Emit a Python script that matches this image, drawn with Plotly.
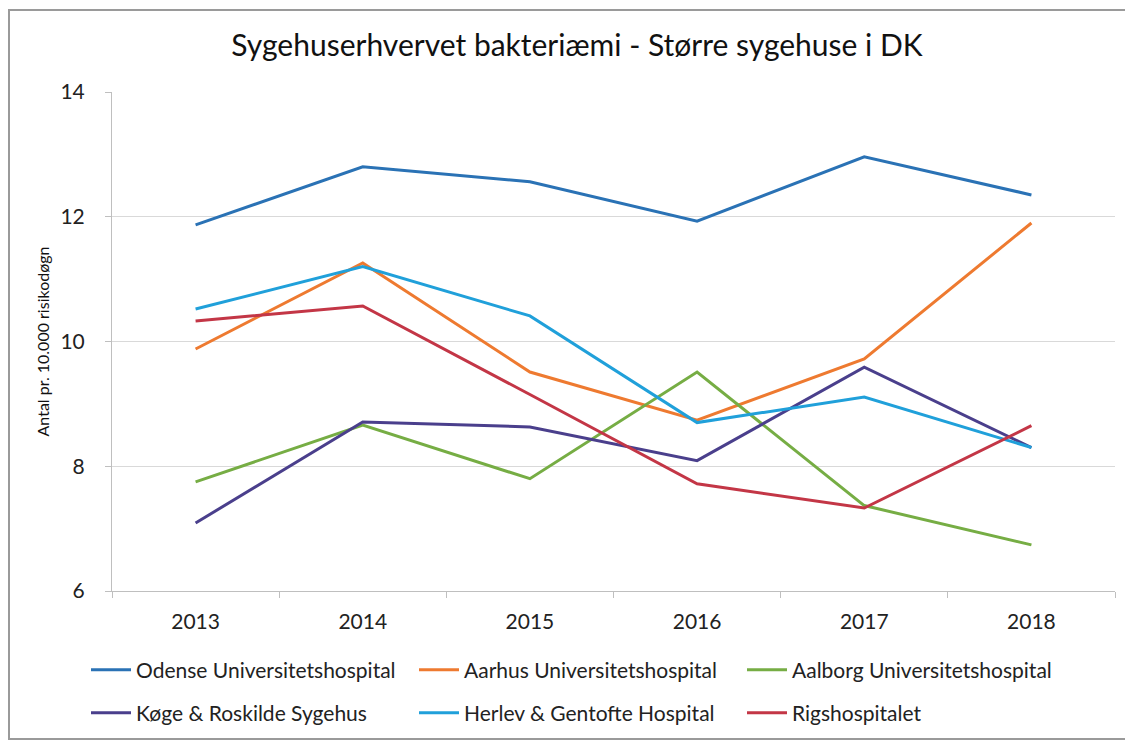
import plotly.graph_objects as go

years = [2013, 2014, 2015, 2016, 2017, 2018]
odense = [11.87, 12.80, 12.56, 11.93, 12.96, 12.35]
aarhus = [9.88, 11.26, 9.51, 8.74, 9.72, 11.90]
aalborg = [7.75, 8.66, 7.80, 9.51, 7.37, 6.74]
koge = [7.09, 8.71, 8.63, 8.09, 9.59, 8.30]
herlev = [10.52, 11.20, 10.41, 8.70, 9.11, 8.30]
rigs = [10.33, 10.57, 9.15, 7.72, 7.33, 8.65]

names = ["Odense Universitetshospital", "Aarhus Universitetshospital", "Aalborg Universitetshospital",
         "Køge & Roskilde Sygehus", "Herlev & Gentofte Hospital", "Rigshospitalet"]
series = [odense, aarhus, aalborg, koge, herlev, rigs]
colors = ["#2A72B5", "#EE7A30", "#76AD44", "#4A3F8C", "#20A0DA", "#C33646"]
legends = ["legend", "legend", "legend", "legend2", "legend2", "legend2"]

# page body adds 8px margin; figure coordinates = screen - 8
OFF = 8
W, H = 1133 - OFF, 744 - OFF
L, R, T, B = 112 - OFF, 18, 92 - OFF, 153
pw, ph = W - L - R, H - T - B

def px(x):
    return (x - OFF - L) / pw

def py(y):
    return (H - B - (y - OFF)) / ph

fig = go.Figure()
for n, s, c, lg in zip(names, series, colors, legends):
    fig.add_trace(go.Scatter(x=years, y=s, name=n, mode="lines",
                             line=dict(color=c, width=3), legend=lg))

FONT = "Lato"
legend_common = dict(orientation="h", font=dict(family=FONT, size=21, color="#222"),
                     entrywidth=273, entrywidthmode="pixels", xanchor="left", yanchor="middle",
                     bgcolor="rgba(0,0,0,0)", itemwidth=40)

fig.update_layout(
    width=W, height=H,
    margin=dict(l=L, r=R, t=T, b=B, autoexpand=False),
    paper_bgcolor="white", plot_bgcolor="white",
    title=dict(text="Sygehuserhvervet bakteriæmi - Større sygehuse i DK",
               x=(577 - OFF) / W, xanchor="center", y=1 - (45 - OFF) / H, yanchor="middle",
               font=dict(family=FONT, size=30, color="#111")),
    xaxis=dict(range=[2012.5, 2018.5], tickvals=years, ticktext=[str(y) for y in years],
               showgrid=False, showline=True, linecolor="#BFBFBF", linewidth=1,
               ticks="", tickfont=dict(family=FONT, size=21, color="#222"),
               ticklabelstandoff=12,
               minor=dict(tick0=2012.5, dtick=1, ticks="outside", ticklen=6, tickcolor="#BFBFBF"),
               zeroline=False),
    yaxis=dict(range=[6, 14], dtick=2, showgrid=True, gridcolor="#D9D9D9", gridwidth=1,
               showline=True, linecolor="#BFBFBF", ticks="outside", ticklen=6, tickcolor="#BFBFBF",
               tickfont=dict(family=FONT, size=21, color="#222"), ticklabelstandoff=16,
               title=dict(text="Antal pr. 10.000 risikodøgn", font=dict(family=FONT, size=16, color="#111"),
                          standoff=6),
               zeroline=False),
    legend=dict(x=px(86), y=py(670), **legend_common),
    legend2=dict(x=px(86), y=py(713), **legend_common),
    shapes=[dict(type="rect", xref="paper", yref="paper",
                 x0=px(9), x1=px(1128), y0=py(739), y1=py(10),
                 line=dict(color="#9A9A9A", width=2), fillcolor="rgba(0,0,0,0)")],
    showlegend=True,
)

fig.write_html("out.html")
